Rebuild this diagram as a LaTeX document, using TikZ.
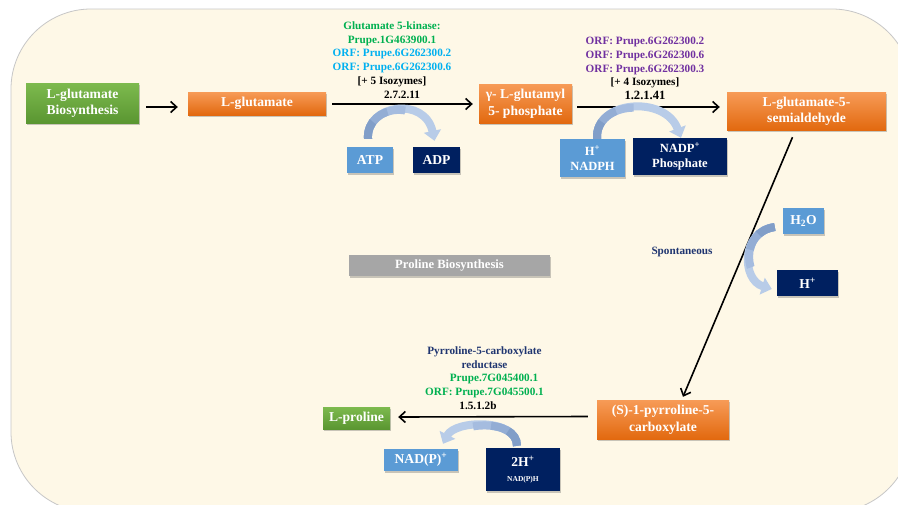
\documentclass[tikz,border=0pt]{standalone}
\usepackage{fontspec}
\setmainfont{Liberation Serif}
\usetikzlibrary{arrows.meta,shadows,calc}
\definecolor{cream}{HTML}{FEF8E7}
\definecolor{orTop}{HTML}{F79B57}
\definecolor{orBot}{HTML}{E2690F}
\definecolor{grTop}{HTML}{7DBA4E}
\definecolor{grBot}{HTML}{5A9631}
\definecolor{lblue}{HTML}{5B9BD5}
\definecolor{navy}{HTML}{002060}
\definecolor{kgreen}{HTML}{00B050}
\definecolor{kcyan}{HTML}{00B0F0}
\definecolor{kpurple}{HTML}{7030A0}
\definecolor{knavy}{HTML}{1F3570}
\definecolor{curv}{HTML}{B8CCE8}
\definecolor{curvA}{HTML}{A5BCDF}
\definecolor{curvB}{HTML}{93ADD4}
\definecolor{curvC}{HTML}{819EC8}
\definecolor{gbox}{HTML}{A6A6A6}
\begin{document}
\begin{tikzpicture}[x=1pt,y=-1pt,
  box/.style={rectangle, inner sep=0pt, align=center, text=white,
    font=\bfseries\fontsize{13.6}{16.5}\selectfont,
    drop shadow={shadow xshift=1.2pt, shadow yshift=-1.5pt, opacity=.3, fill=black!70}},
  orbox/.style={box, top color=orTop, bottom color=orBot},
  grbox/.style={box, top color=grTop, bottom color=grBot},
  lbbox/.style={box, fill=lblue},
  nvbox/.style={box, fill=navy},
  gybox/.style={box, fill=gbox, font=\bfseries\fontsize{12.6}{14}\selectfont},
  lbl/.style={align=center, inner sep=0pt, font=\bfseries\fontsize{11.2}{13.7}\selectfont},
  arr/.style={line width=1.6pt, -{Straight Barb[length=6pt,width=11pt,line width=1.6pt]}},
  carr/.style={line width=8pt, draw=curv, -{Triangle[width=17pt,length=10pt]},
    postaction={draw=curvA, -, dash pattern=on 54pt off 2000pt},
    postaction={draw=curvB, -, dash pattern=on 36pt off 2000pt},
    postaction={draw=curvC, -, dash pattern=on 18pt off 2000pt}}
]
\useasboundingbox (0,0) rectangle (898,504);
\begin{scope}
  \clip (0,0) rectangle (898,504);
  \fill[white] (0,0) rectangle (898,504);
  \filldraw[fill=cream, draw=black!22, line width=0.8pt, rounded corners=80pt] (11,9) rectangle (912,512);
\end{scope}

% main nodes
\node[grbox, minimum width=113pt, minimum height=40pt] (lgb) at (82.5,103) {L-glutamate\\Biosynthesis};
\node[orbox, minimum width=138pt, minimum height=23pt] (lglu) at (257,103.5) {L-glutamate};
\node[orbox, minimum width=93pt, minimum height=39pt] (gp) at (525.5,103.5) {γ- L-glutamyl\\5- phosphate};
\node[orbox, minimum width=159pt, minimum height=38pt] (semi) at (806.5,111) {L-glutamate-5-\\semialdehyde};
\node[orbox, minimum width=132pt, minimum height=39pt] (pyr) at (663,419.5) {(S)-1-pyrroline-5-\\carboxylate};
\node[grbox, minimum width=67pt, minimum height=22pt] (lpro) at (356.5,418) {L-proline};

% cofactor boxes
\node[lbbox, minimum width=46pt, minimum height=26pt] (atp) at (370,160) {ATP};
\node[nvbox, minimum width=47pt, minimum height=26pt] (adp) at (436.5,160) {ADP};
\node[lbbox, minimum width=65pt, minimum height=38pt, font=\bfseries\fontsize{12.5}{15}\selectfont] (hnadph) at (592.5,158) {H\textsuperscript{+}\\NADPH};
\node[nvbox, minimum width=94pt, minimum height=37pt, font=\bfseries\fontsize{12.5}{15}\selectfont] (nadpp) at (680,156.5) {NADP\textsuperscript{+}\\Phosphate};
\node[lbbox, minimum width=41pt, minimum height=26pt] (h2o) at (803.5,221) {H\textsubscript{2}O};
\node[nvbox, minimum width=61pt, minimum height=26pt] (hplus) at (807.5,283) {H\textsuperscript{+}};
\node[lbbox, minimum width=74pt, minimum height=22pt] (nadp2) at (421,460) {NAD(P)\textsuperscript{+}};
\node[nvbox, minimum width=74pt, minimum height=43pt] (h2nad) at (523,469.5) {2H\textsuperscript{+}\\[-2pt]{\fontsize{7.5}{9}\selectfont NAD(P)H}};

\node[gybox, minimum width=201pt, minimum height=21pt] (pb) at (449.5,265.5) {Proline Biosynthesis};

% labels
\node[lbl] (lab1) at (392,60) {\color{kgreen}Glutamate 5-kinase:\\
  \color{kgreen}Prupe.1G463900.1\\
  \color{kcyan}ORF: Prupe.6G262300.2\\
  \color{kcyan}ORF: Prupe.6G262300.6\\
  \color{black}[+ 5 Isozymes]\\
  \color{black}\hspace*{20pt}2.7.2.11};
\node[lbl] (lab2) at (645,68.5) {\color{kpurple}ORF: Prupe.6G262300.2\\
  \color{kpurple}ORF: Prupe.6G262300.6\\
  \color{kpurple}ORF: Prupe.6G262300.3\\
  \color{black}[+ 4 Isozymes]\\
  \color{black}{\fontsize{12.6}{13.7}\selectfont 1.2.1.41}};
\node[lbl] (lab3) at (484.5,378) {\color{knavy}Pyrroline-5-carboxylate\\
  \color{knavy}reductase\\
  \color{kgreen}\hspace*{19pt}Prupe.7G045400.1\\
  \color{kgreen}ORF: Prupe.7G045500.1\\
  \color{black}\hspace*{-13pt}1.5.1.2b};
\node[lbl, text=knavy] (spont) at (682,252) {Spontaneous};

% straight arrows
\draw[arr] ([xshift=7pt,yshift=-4pt]lgb.east) -- ([xshift=-10pt,yshift=-3.5pt]lglu.west);
\draw[arr] ([xshift=6pt,yshift=-0.5pt]lglu.east) -- ([xshift=-6pt,yshift=-0.5pt]gp.west);
\draw[arr] ([xshift=5pt,yshift=-3.5pt]gp.east) -- ([xshift=-7pt,yshift=4pt]semi.west);
\draw[arr] ([xshift=-14pt,yshift=-7pt]semi.south) -- ([xshift=20pt,yshift=3pt]pyr.north);
\draw[arr] ([xshift=-9pt,yshift=3pt]pyr.west) -- ([xshift=8pt,yshift=1pt]lpro.east);

% curved cofactor arrows
\draw[carr] ([xshift=-2pt,yshift=8pt]atp.north) .. controls (366,104) and (425,96) .. ([xshift=-2pt,yshift=6pt]adp.north);
\draw[carr] ([xshift=4.5pt,yshift=0pt]hnadph.north) .. controls (595,100) and (665,95) .. ([xshift=1pt,yshift=0pt]nadpp.north);
\draw[carr] ([xshift=-6pt,yshift=2pt]h2nad.north) .. controls (517,418) and (455,420) .. ([xshift=22pt,yshift=5pt]nadp2.north);
\draw[carr] ([xshift=-8pt,yshift=-6pt]h2o.west) .. controls (740,232) and (742,280) .. ([xshift=-5pt,yshift=-6pt]hplus.west);
\end{tikzpicture}
\end{document}
